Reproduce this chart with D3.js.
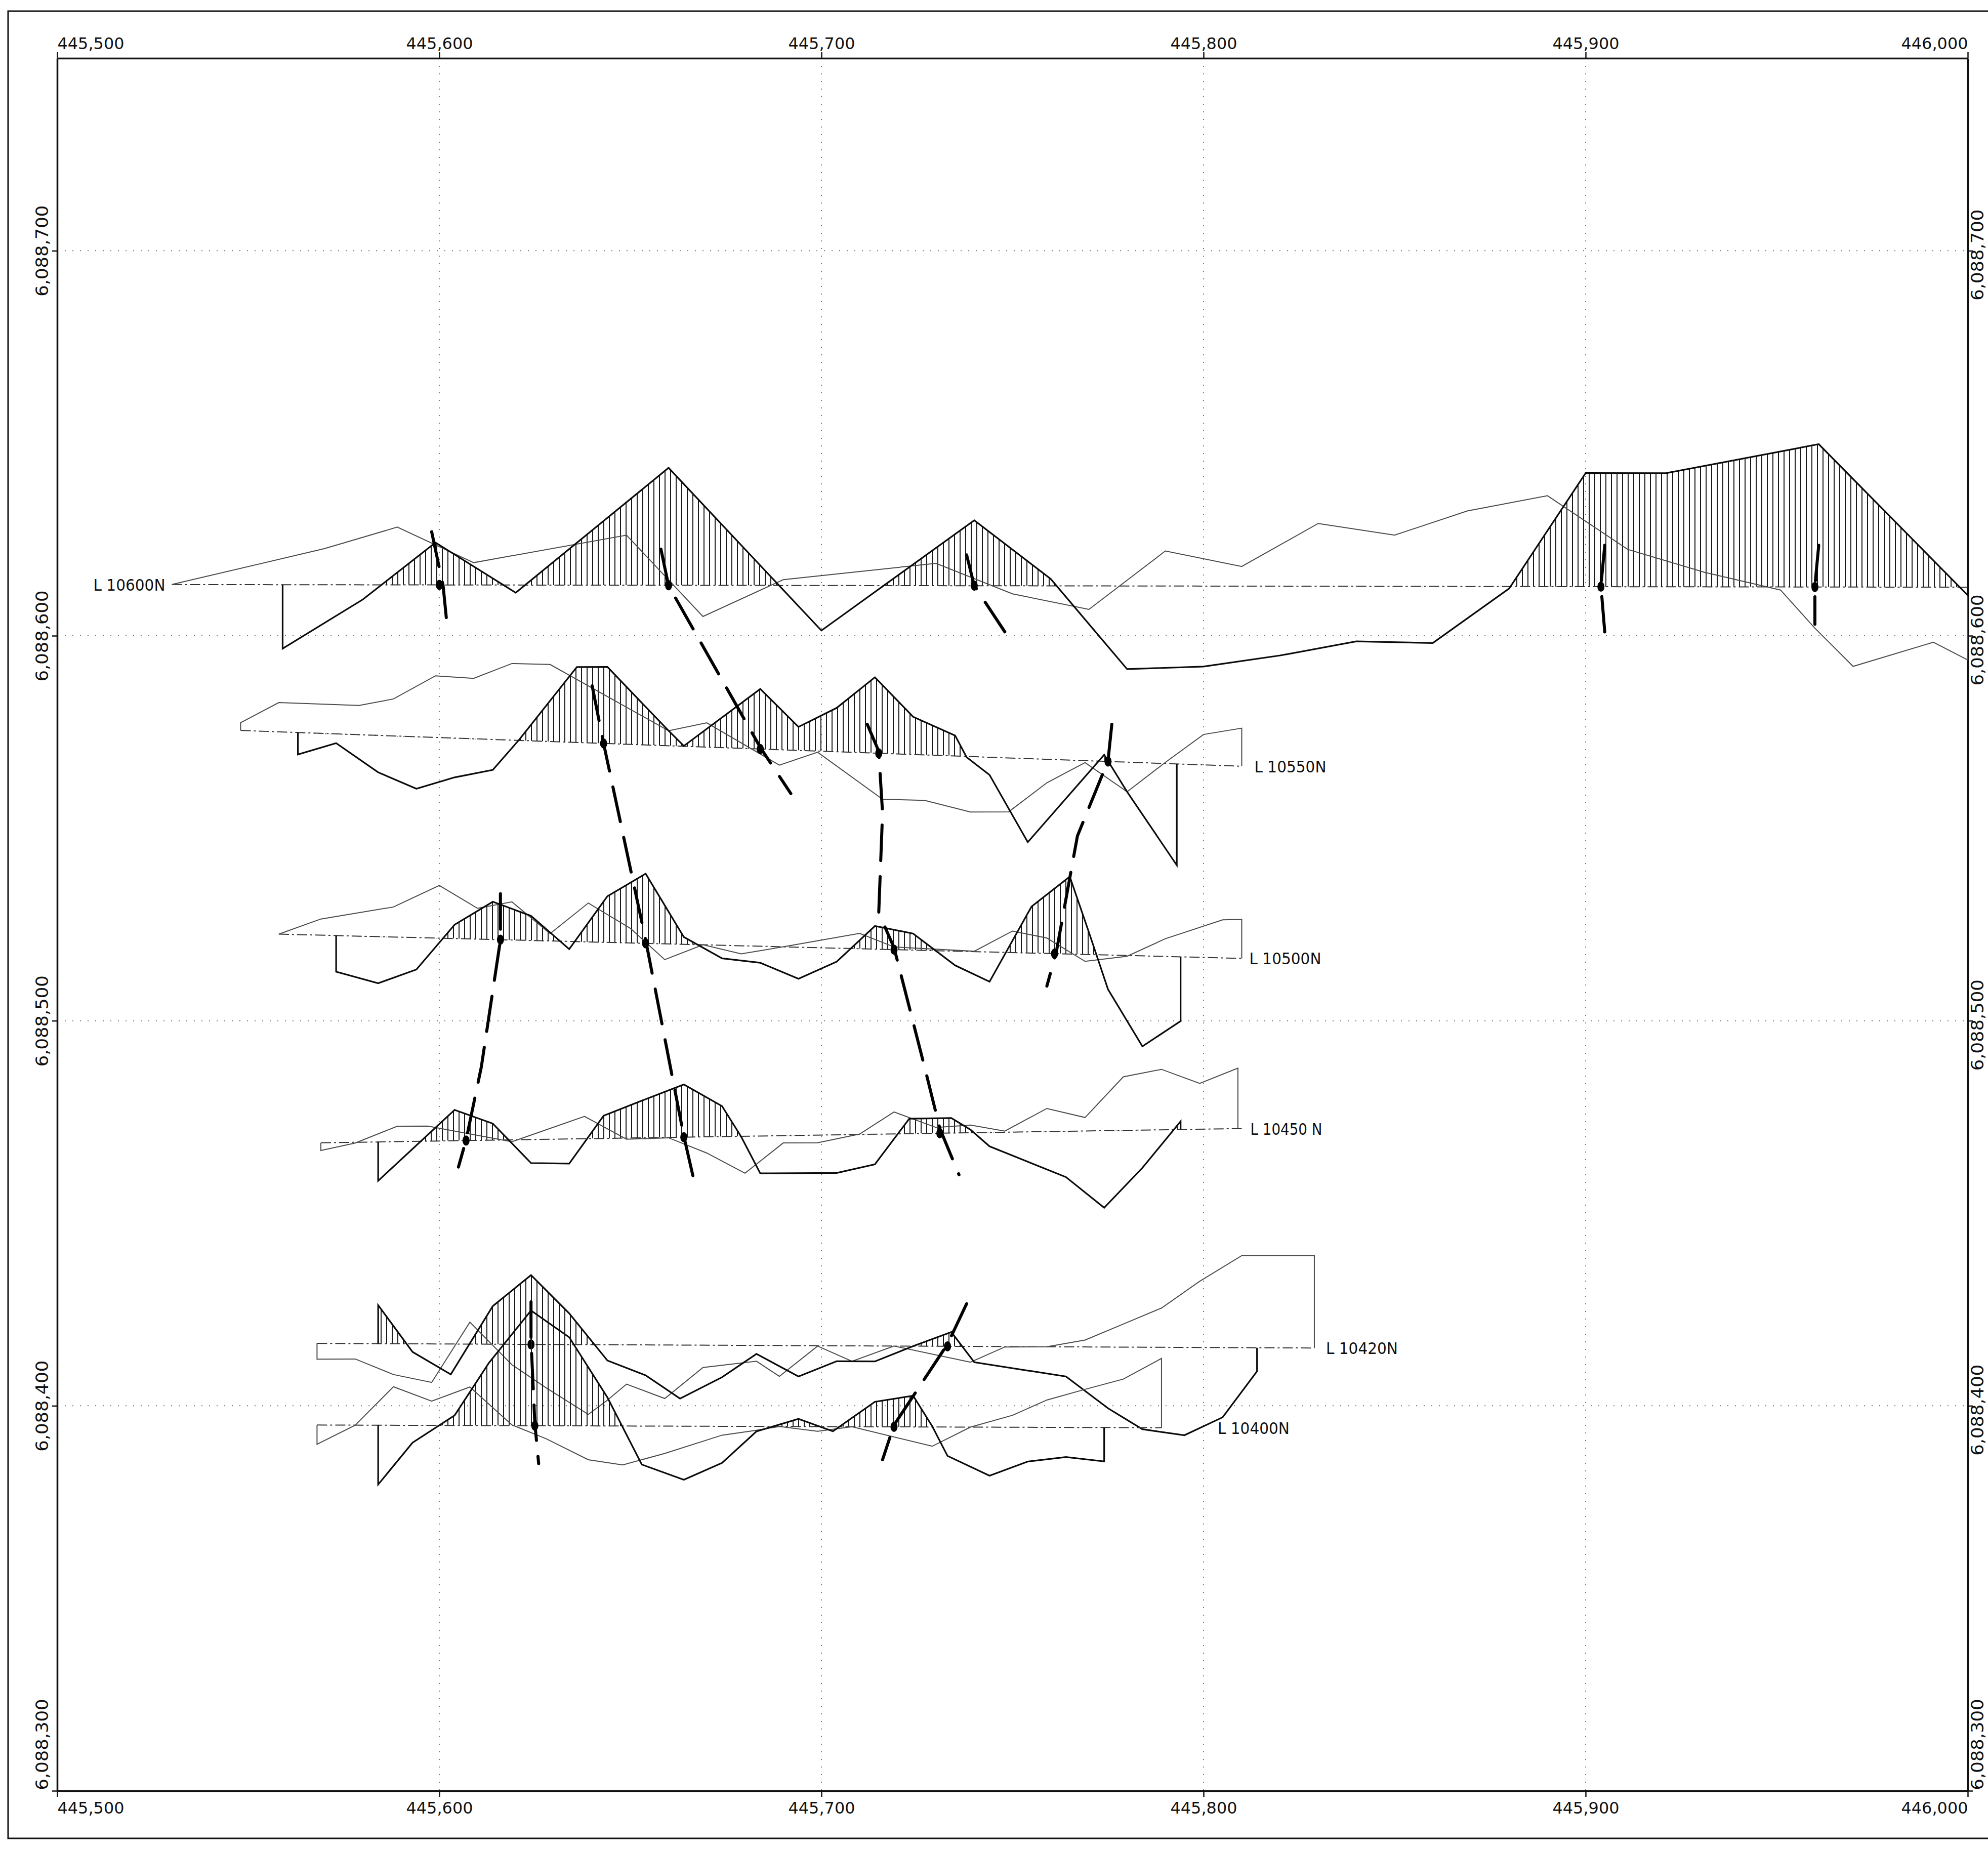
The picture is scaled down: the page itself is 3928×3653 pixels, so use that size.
<!DOCTYPE html>
<html>
<head>
<meta charset="utf-8">
<script src="https://cdn.jsdelivr.net/npm/d3@7"></script>
<style>
  body { margin: 0; background: #fff; }
  svg { display: block; }
</style>
</head>
<body>
<svg id="chart" width="3928" height="3653"></svg>
<script>
// map extent and grid ticks
const eastExtent = [445500, 446000];
const northExtent = [6088300, 6088750];
const eastTicks = [445500, 445600, 445700, 445800, 445900, 446000];
const northTicks = [6088300, 6088400, 6088500, 6088600, 6088700];

// survey lines: name and baseline [startE, startN, endE, endN]
const lineNames = ["L 10600N", "L 10550N", "L 10500N", "L 10450 N", "L 10420N", "L 10400N"];
const baselines = [
  [445530, 6088613.3, 446000, 6088612.6],
  [445548, 6088575.4, 445810, 6088566.1],
  [445558, 6088522.5, 445810, 6088516.2],
  [445569, 6088468.3, 445810, 6088472.0],
  [445568, 6088416.2, 445829, 6088415.0],
  [445568, 6088395.0, 445789, 6088394.3]
];

// heavy (hatched) profiles: [easting, plotted value]
const ipL10600 = [[445559,-16.6],[445580,-3.8],[445599,11.0],[445620,-2.0],[445660,30.5],[445700,-11.7],[445740,17.0],[445760,1.8],[445780,-21.6],[445800,-20.9],[445820,-18.0],[445840,-14.3],[445860,-14.7],[445880,-0.5],[445900,29.5],[445921,29.5],[445961,37.1],[446000,-2.1]];
const ipL10550 = [[445563,-5.7],[445573,-2.4],[445584,-9.6],[445594,-13.5],[445604,-10.2],[445614,-7.9],[445621,0.3],[445636,19.6],[445644,19.9],[445660,3.9],[445664,0.1],[445684,15.6],[445694,6.1],[445704,11.4],[445714,19.7],[445724,9.8],[445735,5.3],[445738,-0.2],[445744,-4.6],[445754,-21.7],[445774,1.7],[445780,-7.7],[445793,-26.3]];
const ipL10500 = [[445573,-9.4],[445584,-12.1],[445594,-8.3],[445604,3.6],[445614,9.8],[445624,6.4],[445634,-2.0],[445644,12.0],[445654,18.1],[445664,1.9],[445674,-3.4],[445684,-4.3],[445694,-8.2],[445704,-3.5],[445714,6.0],[445724,4.3],[445735,-3.7],[445744,-7.7],[445755,12.1],[445765,20.1],[445770,5.8],[445775,-8.9],[445784,-23.5],[445794,-16.7]];
const ipL10450 = [[445584,-10.1],[445604,8.0],[445614,4.3],[445624,-6.1],[445634,-6.4],[445643,5.9],[445655,10.4],[445664,13.7],[445674,7.9],[445679,-0.1],[445684,-9.7],[445704,-9.9],[445714,-7.8],[445723,3.9],[445734,3.9],[445739,0.8],[445744,-3.6],[445764,-11.9],[445774,-20.0],[445784,-9.8],[445794,2.1]];
const ipL10420 = [[445584,10.0],[445593,-2.1],[445603,-7.9],[445614,9.9],[445624,18.0],[445634,8.1],[445644,-4.1],[445654,-7.9],[445663,-13.9],[445674,-8.3],[445683,-2.2],[445694,-8.0],[445704,-4.0],[445714,-4.0],[445724,0],[445734,3.7],[445740,-4.1],[445764,-7.7],[445775,-15.9],[445784,-21.3],[445795,-22.8],[445805,-18.1],[445814,-6.1]];
const ipL10400 = [[445584,-15.4],[445593,-4.5],[445604,2.6],[445613,16.3],[445624,29.9],[445634,23.0],[445644,7.4],[445653,-10.0],[445664,-13.9],[445674,-9.5],[445683,-1.3],[445694,2.0],[445703,-1.2],[445714,6.5],[445724,8.1],[445729,0.2],[445733,-7.5],[445744,-12.6],[445754,-8.9],[445764,-7.7],[445774,-8.8]];

// light profiles
const resL10600 = [[445530,0],[445570,9.4],[445589,15.0],[445609,5.8],[445649,13.0],[445669,-8.1],[445690,1.5],[445730,5.8],[445750,-2.1],[445770,-6.1],[445790,9.1],[445810,5.1],[445830,16.3],[445850,13.3],[445869,19.6],[445890,23.6],[445911,9.7],[445931,3.8],[445951,-0.8],[445960,-10.7],[445970,-20.6],[445991,-14.3],[446000,-18.9]];
const resL10550 = [[445548,2.0],[445558,7.6],[445579,7.6],[445588,9.6],[445599,16.0],[445609,15.7],[445619,19.9],[445629,20.0],[445660,3.9],[445670,6.3],[445689,-4.0],[445699,-0.3],[445716,-11.9],[445727,-11.8],[445739,-14.4],[445749,-14.0],[445759,-6.1],[445769,-0.5],[445780,-7.7],[445790,0.3],[445800,7.9],[445810,9.9]];
const resL10500 = [[445558,0],[445569,4.2],[445588,7.8],[445600,13.7],[445610,8.0],[445619,9.9],[445629,1.9],[445639,10.1],[445650,3.8],[445659,-4.1],[445669,0],[445679,-2.1],[445691,0.2],[445710,4.0],[445719,0.7],[445740,0.1],[445750,5.6],[445759,4.0],[445769,-1.8],[445780,-0.2],[445790,4.6],[445805,9.9],[445810,10.1]];
const resL10450 = [[445569,-2.0],[445578,-0.2],[445589,4.0],[445597,3.9],[445619,-0.5],[445638,5.8],[445649,-0.3],[445660,-0.1],[445670,-4.2],[445680,-9.6],[445690,-1.9],[445699,-2.0],[445710,0.1],[445719,5.7],[445730,1.5],[445739,2.0],[445748,0.3],[445759,6.0],[445769,3.5],[445779,13.9],[445789,15.7],[445799,11.9],[445809,15.7]];
const resL10420 = [[445568,-4.1],[445578,-4.0],[445588,-8.0],[445598,-10.0],[445608,5.7],[445619,-5.3],[445628,-11.3],[445639,-18.1],[445644,-14.4],[445649,-10.2],[445659,-13.9],[445669,-5.8],[445683,-4.1],[445689,-8.0],[445699,-0.1],[445708,-4.0],[445719,0],[445739,-4.1],[445748,-0.1],[445759,0],[445769,1.8],[445779,6.0],[445789,10.2],[445799,17.2],[445810,23.9],[445829,24.0]];
const resL10400 = [[445568,-5.0],[445578,0],[445588,10.0],[445598,6.3],[445608,10.0],[445619,0.2],[445628,-3.4],[445639,-8.8],[445648,-10.1],[445659,-7.1],[445674,-2.3],[445683,-1.0],[445689,0],[445699,-1.2],[445708,0],[445729,-5.0],[445739,0],[445750,3.1],[445759,7.1],[445769,9.9],[445779,12.6],[445789,18.0]];

const ipProfiles = [ipL10600, ipL10550, ipL10500, ipL10450, ipL10420, ipL10400];
const resProfiles = [resL10600, resL10550, resL10500, resL10450, resL10420, resL10400];

// anomaly picks (eastings on each line)
const picks = [
  [445600, 445660, 445740, 445904, 445960],
  [445643, 445684, 445715, 445775],
  [445616, 445654, 445719, 445761],
  [445607, 445664, 445731],
  [445624, 445733],
  [445625, 445719]
];

// interpreted conductor axes [easting, northing]
const conductorAxes = [
  [[445598,6088627],[445601,6088613],[445602,6088603]],
  [[445658,6088622.5],[445660,6088613],[445684,6088571],[445692,6088559]],
  [[445738,6088621],[445740,6088613],[445748,6088601]],
  [[445905,6088623.5],[445904,6088613],[445905,6088601]],
  [[445961,6088623.5],[445960,6088613],[445960,6088603]],
  [[445640,6088587],[445643,6088572],[445654,6088521],[445664,6088470],[445667,6088457]],
  [[445712,6088577],[445715,6088570],[445716,6088554],[445715,6088528],[445719,6088519],[445727,6088488],[445731,6088472],[445736,6088460]],
  [[445776,6088577],[445775,6088567.5],[445767,6088548],[445761.5,6088518],[445759,6088509]],
  [[445616,6088533],[445616,6088521],[445611,6088488],[445607,6088469],[445605,6088462]],
  [[445624,6088427],[445624,6088417],[445625,6088395.5],[445626,6088385]],
  [[445738,6088426.5],[445733,6088416],[445719,6088395],[445716,6088386]]
];

const width = 3928, height = 3653;
const x = d3.scaleLinear().domain(eastExtent).range([113, 3888]);
const y = d3.scaleLinear().domain(northExtent).range([3538, 115]);

const svg = d3.select("#chart");
const font = "'DejaVu Sans', 'Liberation Sans', sans-serif";

svg.append("rect").attr("width", width).attr("height", height).attr("fill", "#fff");

// outer sheet border
svg.append("rect")
  .attr("x", 16).attr("y", 22)
  .attr("width", 3960).attr("height", 3610)
  .attr("fill", "none").attr("stroke", "#111").attr("stroke-width", 3);

// dotted grid
const grid = svg.append("g")
  .attr("stroke", "#777").attr("stroke-width", 2).attr("stroke-dasharray", "2,13");
grid.selectAll(".vg").data(eastTicks.slice(1, -1)).join("line")
  .attr("x1", d => x(d)).attr("x2", d => x(d))
  .attr("y1", y(northExtent[1])).attr("y2", y(northExtent[0]));
grid.selectAll(".hg").data(northTicks.slice(1)).join("line")
  .attr("y1", d => y(d)).attr("y2", d => y(d))
  .attr("x1", x(eastExtent[0])).attr("x2", x(eastExtent[1]));

const fmt = d3.format(",");
const last = eastTicks.length - 1;

function styleAxis(g) {
  g.attr("font-family", font);
  g.select(".domain").attr("stroke", "#111").attr("stroke-width", 3.5);
  g.selectAll(".tick line").attr("stroke", "#111").attr("stroke-width", 2.5);
  g.selectAll(".tick text").attr("fill", "#111");
}

// top axis
svg.append("g")
  .attr("transform", `translate(0,${y(northExtent[1])})`)
  .call(d3.axisTop(x).tickValues(eastTicks).tickFormat(fmt).tickSize(12).tickSizeOuter(0))
  .call(styleAxis)
  .call(g => g.selectAll(".tick text")
    .attr("y", -18).attr("dy", 0).attr("font-size", 32)
    .attr("textLength", 132).attr("lengthAdjust", "spacingAndGlyphs")
    .attr("text-anchor", (d, i) => i === 0 ? "start" : i === last ? "end" : "middle"));

// bottom axis
svg.append("g")
  .attr("transform", `translate(0,${y(northExtent[0])})`)
  .call(d3.axisBottom(x).tickValues(eastTicks).tickFormat(fmt).tickSize(12).tickSizeOuter(0))
  .call(styleAxis)
  .call(g => g.selectAll(".tick text")
    .attr("y", 45).attr("dy", 0).attr("font-size", 32)
    .attr("textLength", 132).attr("lengthAdjust", "spacingAndGlyphs")
    .attr("text-anchor", (d, i) => i === 0 ? "start" : i === last ? "end" : "middle"));

// left axis (labels read upward)
svg.append("g")
  .attr("transform", `translate(${x(eastExtent[0])},0)`)
  .call(d3.axisLeft(y).tickValues(northTicks).tickFormat(fmt).tickSize(10).tickSizeOuter(0))
  .call(styleAxis)
  .call(g => g.selectAll(".tick text")
    .attr("transform", "rotate(-90)")
    .attr("x", d => d === northExtent[0] ? 2 : 0)
    .attr("y", -18).attr("dy", 0).attr("font-size", 34)
    .attr("textLength", 180).attr("lengthAdjust", "spacingAndGlyphs")
    .attr("text-anchor", d => d === northExtent[0] ? "start" : "middle"));

// right axis
svg.append("g")
  .attr("transform", `translate(${x(eastExtent[1])},0)`)
  .call(d3.axisRight(y).tickValues(northTicks).tickFormat(fmt).tickSize(10).tickSizeOuter(0))
  .call(styleAxis)
  .call(g => g.selectAll(".tick text")
    .attr("transform", "rotate(-90)")
    .attr("x", d => d === northExtent[0] ? 2 : -8)
    .attr("y", 31).attr("dy", 0).attr("font-size", 34)
    .attr("textLength", 180).attr("lengthAdjust", "spacingAndGlyphs")
    .attr("text-anchor", d => d === northExtent[0] ? "start" : "middle"));

// baseline northing at a given easting
function baseN(b, e) {
  const t = (e - b[0]) / (b[2] - b[0]);
  return b[1] + t * (b[3] - b[1]);
}

const defs = svg.append("defs");
defs.append("pattern")
  .attr("id", "hatch").attr("patternUnits", "userSpaceOnUse")
  .attr("width", 11).attr("height", 40)
  .append("line")
  .attr("x1", 5).attr("x2", 5).attr("y1", 0).attr("y2", 40)
  .attr("stroke", "#1a1a1a").attr("stroke-width", 2);

const plot = svg.append("g");

baselines.forEach((b, i) => {
  const line = d3.line()
    .x(d => x(d[0]))
    .y(d => y(baseN(b, d[0]) + d[1]));

  const ip = ipProfiles[i];
  const res = resProfiles[i];
  const ipClosed = [[ip[0][0], 0], ...ip, [ip[ip.length - 1][0], 0]];
  const resClosed = [[res[0][0], 0], ...res, [res[res.length - 1][0], 0]];

  // keep only the part above the line's baseline for the hatching
  defs.append("clipPath").attr("id", "above" + i)
    .append("path")
    .attr("d", `M${x(b[0]) - 40},${y(b[1])}L${x(b[2]) + 40},${y(b[3])}L${x(b[2]) + 40},0L${x(b[0]) - 40},0Z`);

  plot.append("path")
    .attr("d", line(ipClosed) + "Z")
    .attr("fill", "url(#hatch)")
    .attr("clip-path", `url(#above${i})`);

  // baseline (dash-dot)
  plot.append("line")
    .attr("x1", x(b[0])).attr("y1", y(b[1]))
    .attr("x2", x(b[2])).attr("y2", y(b[3]))
    .attr("stroke", "#333").attr("stroke-width", 2)
    .attr("stroke-dasharray", "20,6,4,6");

  plot.append("path")
    .attr("d", line(resClosed))
    .attr("fill", "none").attr("stroke", "#4a4a4a").attr("stroke-width", 2);

  plot.append("path")
    .attr("d", line(ipClosed))
    .attr("fill", "none").attr("stroke", "#0a0a0a").attr("stroke-width", 3.2)
    .attr("stroke-linejoin", "miter");

  plot.selectAll(null).data(picks[i]).join("ellipse")
    .attr("cx", d => x(d)).attr("cy", d => y(baseN(b, d)))
    .attr("rx", 7).attr("ry", 10).attr("fill", "#000");
});

// conductor axes (heavy dashed)
const axisLine = d3.line().x(d => x(d[0])).y(d => y(d[1]));
plot.selectAll(".cond").data(conductorAxes).join("path")
  .attr("d", axisLine)
  .attr("fill", "none").attr("stroke", "#000").attr("stroke-width", 6)
  .attr("stroke-dasharray", "70,32").attr("stroke-linecap", "round");

// line labels
const labelGaps = [13, 25, 15, 17, 23, 111];
plot.selectAll(".lname").data(lineNames).join("text")
  .attr("x", (d, i) => i === 0 ? x(baselines[i][0]) - labelGaps[i] : x(baselines[i][2]) + labelGaps[i])
  .attr("y", (d, i) => i === 0 ? y(baselines[i][1]) + 12 : y(baselines[i][3]) + 12)
  .attr("text-anchor", (d, i) => i === 0 ? "end" : "start")
  .attr("font-family", font).attr("font-size", 32)
  .attr("textLength", 142).attr("lengthAdjust", "spacingAndGlyphs")
  .attr("fill", "#111")
  .text(d => d);
</script>
</body>
</html>
